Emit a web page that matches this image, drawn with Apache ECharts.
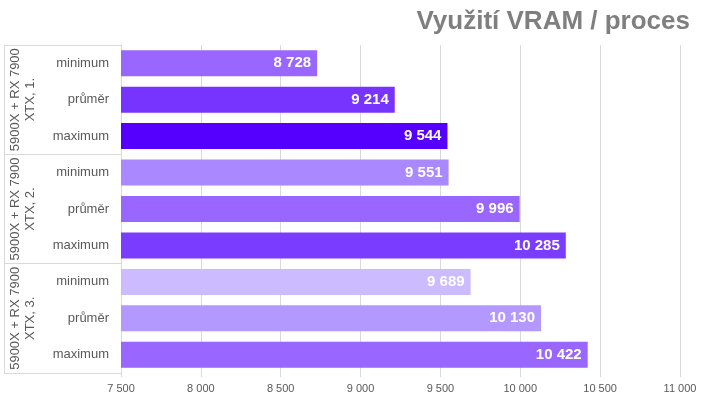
<!DOCTYPE html>
<html><head><meta charset="utf-8">
<script src="https://cdn.jsdelivr.net/npm/echarts@6/dist/echarts.min.js"></script>
<style>html,body{margin:0;padding:0;background:#fff}#c{width:720px;height:405px}</style>
</head><body><div id="c"></div>
<script>
var groups = ['5900X + RX 7900\nXTX, 1.', '5900X + RX 7900\nXTX, 2.', '5900X + RX 7900\nXTX, 3.'];
var metrics = ['minimum', 'průměr', 'maximum'];
var values = [8728, 9214, 9544, 9551, 9996, 10285, 9689, 10130, 10422];
var colors = ['#9966ff', '#7733ff', '#5500ff', '#aa88ff', '#9966ff', '#7a3dff', '#ccbbff', '#b399ff', '#9966ff'];
var xMin = 7500, xMax = 11000, xStep = 500;

var cats = [];
groups.forEach(function (g, gi) { metrics.forEach(function (m) { cats.push(m); }); });
function fmt(v) { return String(v).replace(/\B(?=(\d{3})+(?!\d))/g, ' '); }

var chart = echarts.init(document.getElementById('c'));
chart.setOption({
  animation: false,
  title: {
    text: 'Využití VRAM / proces', right: 25, top: 4,
    textStyle: { fontFamily: 'Liberation Sans', fontSize: 26, fontWeight: 'bold', color: '#7f7f7f' }
  },
  grid: { left: 121, right: 40, top: 45, bottom: 32 },
  xAxis: {
    type: 'value', min: xMin, max: xMax, interval: xStep,
    axisLine: { show: false },
    axisTick: { show: true, length: 4, lineStyle: { color: '#d9d9d9' } },
    splitLine: { lineStyle: { color: '#d9d9d9' } },
    axisLabel: { formatter: fmt, color: '#595959', fontFamily: 'Liberation Sans', fontSize: 11, margin: 10 }
  },
  yAxis: [{
    type: 'category', data: cats.map(function (c, i) { return i; }), inverse: true,
    axisLine: { show: true, lineStyle: { color: '#d9d9d9' } },
    axisTick: { show: false },
    axisLabel: { interval: 0, formatter: function (v, i) { return cats[i]; }, color: '#595959', fontFamily: 'Liberation Sans', fontSize: 13, margin: 12 }
  }, {
    type: 'category', data: groups, inverse: true, position: 'left', offset: 117,
    axisLine: { show: true, lineStyle: { color: '#d9d9d9' } },
    axisTick: { show: true, interval: 0, inside: true, length: 117, lineStyle: { color: '#d9d9d9' } },
    axisLabel: { interval: 0, inside: true, rotate: 90, margin: 4, color: '#595959', fontFamily: 'Liberation Sans', fontSize: 13, lineHeight: 15 }
  }],
  series: [{
    type: 'bar', yAxisIndex: 0, barWidth: 26,
    data: values.map(function (v, i) { return { value: v, itemStyle: { color: colors[i] } }; }),
    label: {
      show: true, position: 'insideRight', distance: 6, formatter: function (p) { return fmt(p.value); },
      color: '#fff', fontFamily: 'Liberation Sans', fontSize: 15, fontWeight: 'bold'
    }
  }]
});
</script></body></html>
